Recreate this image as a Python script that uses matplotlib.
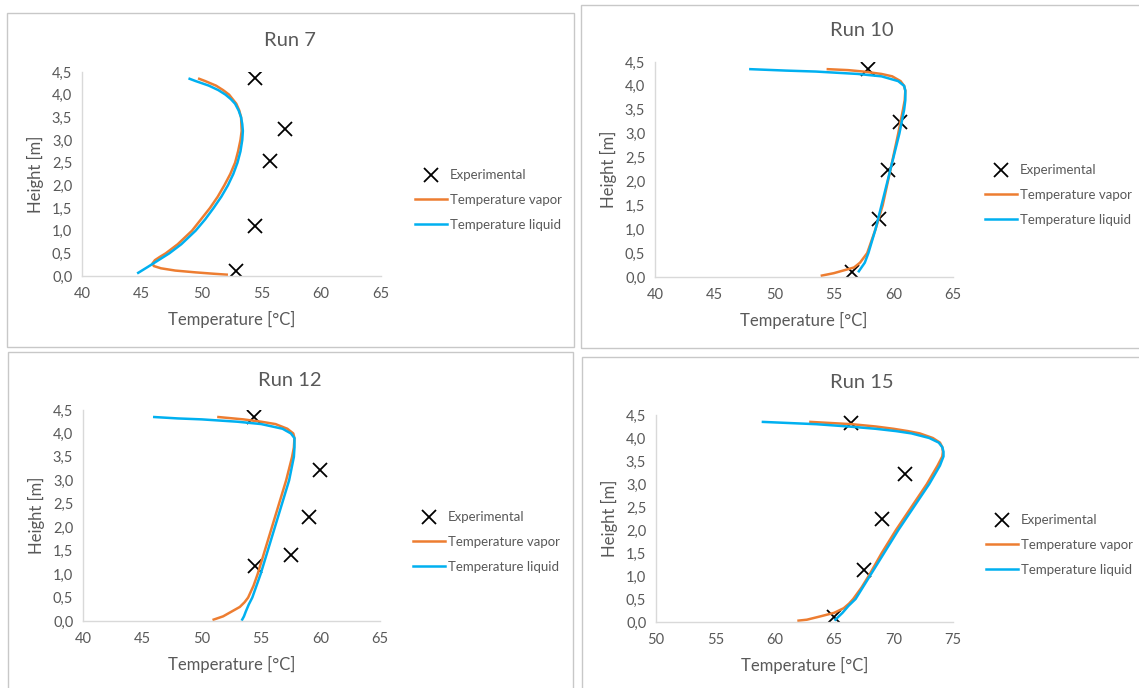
import matplotlib.pyplot as plt
from matplotlib.patches import Rectangle

plt.rcParams['font.family'] = ['Lato', 'DejaVu Sans']

GREY = '#595959'
SPINE = '#d9d9d9'
ORANGE = '#ED7D31'
BLUE = '#00B0F0'

W, H = 1139, 688

y_ticks = [0.0, 0.5, 1.0, 1.5, 2.0, 2.5, 3.0, 3.5, 4.0, 4.5]
y_tick_labels = ['0,0', '0,5', '1,0', '1,5', '2,0', '2,5', '3,0', '3,5', '4,0', '4,5']
x_ticks_a = [40, 45, 50, 55, 60, 65]
x_ticks_b = [50, 55, 60, 65, 70, 75]

# Run 7
r7_exp_T = [54.5, 57.0, 55.7, 54.5, 52.9]
r7_exp_h = [4.36, 3.24, 2.54, 1.10, 0.11]
r7_vap_h = [4.35, 4.3, 4.2, 4.1, 4.0, 3.9, 3.8, 3.65, 3.5, 3.2, 3.0, 2.75, 2.5, 2.25, 2.0, 1.75, 1.5, 1.25,
            1.0, 0.85, 0.7, 0.6, 0.5, 0.42, 0.35, 0.28, 0.22, 0.17, 0.12, 0.08, 0.05, 0.03]
r7_vap_T = [49.8, 50.3, 51.2, 51.8, 52.3, 52.6, 52.9, 53.15, 53.3, 53.35, 53.25, 53.05, 52.8, 52.4, 51.9, 51.35,
            50.7, 49.95, 49.2, 48.6, 48.0, 47.5, 47.0, 46.5, 46.1, 45.9, 46.0, 46.6, 47.8, 49.5, 51.0, 52.1]
r7_liq_h = [4.35, 4.3, 4.2, 4.1, 4.0, 3.9, 3.8, 3.65, 3.5, 3.35, 3.2, 3.0, 2.75, 2.5, 2.25, 2.0, 1.75, 1.5,
            1.25, 1.0, 0.85, 0.7, 0.6, 0.5, 0.4, 0.3, 0.2, 0.07]
r7_liq_T = [49.0, 49.5, 50.6, 51.4, 52.0, 52.45, 52.8, 53.1, 53.3, 53.4, 53.45, 53.4, 53.25, 53.0, 52.65, 52.2,
            51.65, 51.0, 50.3, 49.5, 48.9, 48.3, 47.8, 47.3, 46.7, 46.1, 45.5, 44.7]

# Run 10
r10_exp_T = [57.9, 60.55, 59.55, 58.75, 56.5]
r10_exp_h = [4.35, 3.24, 2.24, 1.21, 0.11]
r10_vap_h = [4.35, 4.33, 4.3, 4.25, 4.2, 4.1, 4.0, 3.9, 3.7, 3.5, 3.0, 2.3, 1.5, 1.0, 0.5, 0.3, 0.2, 0.15,
             0.08, 0.03]
r10_vap_T = [54.5, 56.2, 57.5, 59.0, 59.9, 60.6, 60.9, 61.0, 60.95, 60.8, 60.4, 59.8, 59.1, 58.5, 57.8, 57.2,
             56.7, 56.0, 55.0, 54.0]
r10_liq_h = [4.35, 4.32, 4.3, 4.25, 4.2, 4.1, 4.0, 3.9, 3.7, 3.5, 3.0, 2.5, 2.0, 1.5, 1.0, 0.5, 0.3, 0.12]
r10_liq_T = [48.0, 51.0, 53.5, 57.0, 59.0, 60.4, 60.9, 61.0, 61.0, 60.9, 60.5, 60.0, 59.5, 59.0, 58.5, 57.9,
             57.6, 57.1]

# Run 12
r12_exp_T = [54.4, 59.95, 59.0, 57.5, 54.5]
r12_exp_h = [4.35, 3.22, 2.22, 1.40, 1.18]
r12_vap_h = [4.35, 4.3, 4.25, 4.2, 4.1, 4.0, 3.9, 3.7, 3.5, 3.0, 2.5, 2.0, 1.5, 1.0, 0.75, 0.5, 0.4, 0.3,
             0.2, 0.1, 0.03]
r12_vap_T = [51.4, 53.5, 55.0, 56.2, 57.2, 57.7, 57.8, 57.75, 57.6, 57.1, 56.5, 55.9, 55.3, 54.7, 54.35,
             53.9, 53.6, 53.2, 52.5, 51.8, 51.0]
r12_liq_h = [4.35, 4.32, 4.3, 4.25, 4.2, 4.1, 4.0, 3.9, 3.7, 3.5, 3.0, 2.5, 2.0, 1.5, 1.0, 0.75, 0.5, 0.35,
             0.2, 0.1, 0.03]
r12_liq_T = [46.0, 48.0, 50.0, 53.0, 55.0, 56.8, 57.5, 57.8, 57.8, 57.75, 57.35, 56.75, 56.15, 55.55, 54.95,
             54.6, 54.25, 53.95, 53.7, 53.55, 53.4]

# Run 15
r15_exp_T = [66.4, 71.0, 69.0, 67.5, 65.0]
r15_exp_h = [4.33, 3.21, 2.23, 1.14, 0.11]
r15_vap_h = [4.35, 4.3, 4.25, 4.2, 4.15, 4.1, 4.0, 3.9, 3.8, 3.7, 3.6, 3.4, 3.2, 3.0, 2.5, 2.0, 1.5, 1.0,
             0.75, 0.5, 0.4, 0.3, 0.2, 0.12, 0.05, 0.03]
r15_vap_T = [63.0, 66.5, 68.5, 70.0, 71.2, 72.2, 73.3, 73.9, 74.1, 74.15, 74.1, 73.7, 73.25, 72.8, 71.5, 70.2,
             69.0, 67.9, 67.3, 66.6, 66.25, 65.8, 65.0, 63.8, 62.7, 62.0]
r15_liq_h = [4.35, 4.3, 4.25, 4.2, 4.15, 4.1, 4.0, 3.9, 3.8, 3.7, 3.6, 3.4, 3.2, 3.0, 2.5, 2.0, 1.5, 1.0,
             0.75, 0.5, 0.35, 0.2, 0.05]
r15_liq_T = [59.0, 63.5, 66.2, 68.5, 70.2, 71.5, 73.0, 73.8, 74.1, 74.2, 74.2, 73.9, 73.45, 73.0, 71.7, 70.4,
             69.2, 68.0, 67.4, 66.8, 66.2, 65.7, 65.1]

runs = [
    ('Run 7', r7_exp_T, r7_exp_h, r7_vap_T, r7_vap_h, r7_liq_T, r7_liq_h, x_ticks_a),
    ('Run 10', r10_exp_T, r10_exp_h, r10_vap_T, r10_vap_h, r10_liq_T, r10_liq_h, x_ticks_a),
    ('Run 12', r12_exp_T, r12_exp_h, r12_vap_T, r12_vap_h, r12_liq_T, r12_liq_h, x_ticks_a),
    ('Run 15', r15_exp_T, r15_exp_h, r15_vap_T, r15_vap_h, r15_liq_T, r15_liq_h, x_ticks_b),
]

# pixel layout: frame (l, t, r, b), axes (l, t, r, b), legend anchor (x, y), title (x, y)
layout = [
    ((7, 13, 574, 347), (82, 72, 381, 276), (415, 200), (290, 40)),
    ((581, 5, 1145, 348), (655, 62, 953, 277), (985, 195), (862, 30)),
    ((8, 352, 573, 695), (83, 410, 380, 621), (413, 542), (290, 380)),
    ((582, 357, 1145, 695), (656, 415, 953, 622), (986, 545), (862, 383)),
]

fig = plt.figure(figsize=(W / 100, H / 100), dpi=100)


def fx(px):
    return px / W


def fy(py):
    return 1 - py / H


for (title, eT, eh, vT, vh, lT, lh, xt), (frame, box, leg, tpos) in zip(runs, layout):
    l, t, r, b = frame
    fig.patches.append(Rectangle((fx(l), fy(b)), fx(r - l), (b - t) / H,
                                 transform=fig.transFigure, fill=False,
                                 edgecolor='#c8c8c8', linewidth=1.0))
    l, t, r, b = box
    ax = fig.add_axes([fx(l), fy(b), fx(r - l), (b - t) / H])
    ax.plot(eT, eh, linestyle='none', marker='x', color='black',
            markersize=10.5, markeredgewidth=1.3, label='Experimental')
    ax.plot(vT, vh, color=ORANGE, linewidth=1.8, label='Temperature vapor',
            solid_joinstyle='round')
    ax.plot(lT, lh, color=BLUE, linewidth=1.8, label='Temperature liquid',
            solid_joinstyle='round')
    ax.set_xlim(xt[0], xt[-1])
    ax.set_ylim(0, 4.5)
    ax.set_xticks(xt)
    ax.set_xticklabels([str(v) for v in xt])
    ax.set_yticks(y_ticks)
    ax.set_yticklabels(y_tick_labels)
    for s in ['top', 'right']:
        ax.spines[s].set_visible(False)
    for s in ['left', 'bottom']:
        ax.spines[s].set_color(SPINE)
        ax.spines[s].set_linewidth(1.0)
    ax.tick_params(length=0, labelsize=10.5, labelcolor=GREY)
    ax.tick_params(axis='x', pad=8)
    ax.tick_params(axis='y', pad=7)
    ax.set_xlabel('Temperature [°C]', fontsize=12, color=GREY, labelpad=7)
    ax.set_ylabel('Height [m]', fontsize=12, color=GREY, labelpad=6)
    ax.patch.set_visible(False)
    ax.legend(loc='center left', bbox_to_anchor=(fx(leg[0]), fy(leg[1])),
              bbox_transform=fig.transFigure, frameon=False, fontsize=9.5,
              handlelength=2.4, handletextpad=0.25, labelspacing=0.95,
              borderpad=0, borderaxespad=0, labelcolor=GREY)
    fig.text(fx(tpos[0]), fy(tpos[1]), title, ha='center', va='center',
             fontsize=14.5, color=GREY)

fig.savefig('out.png', dpi=100)
